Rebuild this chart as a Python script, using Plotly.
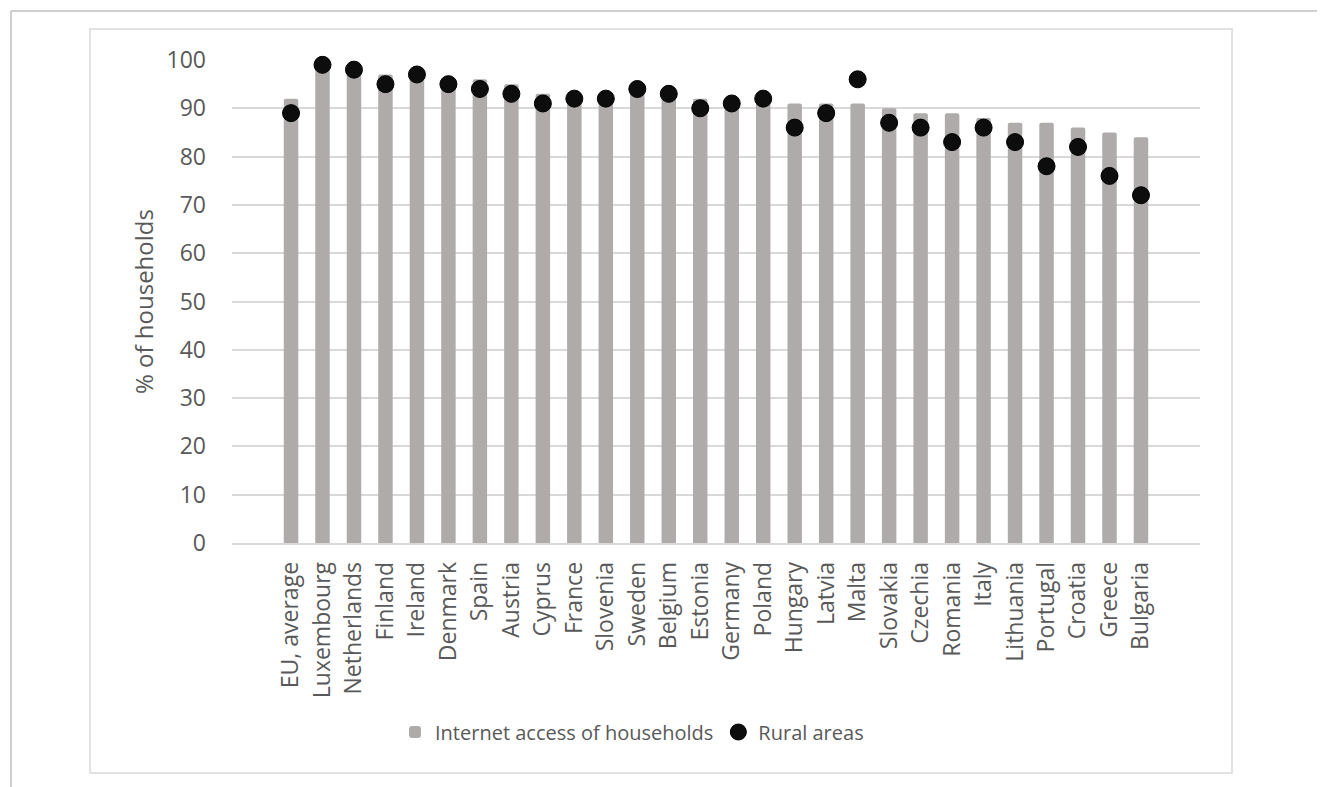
import plotly.graph_objects as go

countries = ["EU, average", "Luxembourg", "Netherlands", "Finland", "Ireland", "Denmark",
             "Spain", "Austria", "Cyprus", "France", "Slovenia", "Sweden", "Belgium",
             "Estonia", "Germany", "Poland", "Hungary", "Latvia", "Malta", "Slovakia",
             "Czechia", "Romania", "Italy", "Lithuania", "Portugal", "Croatia", "Greece",
             "Bulgaria"]
internet_access = [92, 99, 99, 97, 97, 96, 96, 95, 93, 93, 93, 94, 93, 92, 92, 92, 91, 91,
                   91, 90, 89, 89, 88, 87, 87, 86, 85, 84]
rural_areas = [89, 99, 98, 95, 97, 95, 94, 93, 91, 92, 92, 94, 93, 90, 91, 92, 86, 89,
               96, 87, 86, 83, 86, 83, 78, 82, 76, 72]
y_ticks = [0, 10, 20, 30, 40, 50, 60, 70, 80, 90, 100]

OFF = 8  # page body margin
W, H = 1325 - OFF, 787 - OFF
L, R, T, B = 232 - OFF, 1200 - OFF, 60 - OFF, 543 - OFF  # plot area in figure pixels


def px_x(p):
    return (p - OFF - L) / (R - L)


def px_y(p):
    return (B - (p - OFF)) / (B - T)


fig = go.Figure()
fig.add_trace(go.Bar(
    x=countries, y=internet_access, name="Internet access of households",
    marker=dict(color="#AFABAB", cornerradius=2, line=dict(width=0)),
))
fig.add_trace(go.Scatter(
    x=countries, y=rural_areas, name="Rural areas", mode="markers",
    marker=dict(color="#0D0D0D", size=17, line=dict(color="#000000", width=1)),
    cliponaxis=False,
))

font_family = "Open Sans"
shapes = [
    # inner chart border
    dict(type="rect", xref="paper", yref="paper",
         x0=px_x(90), x1=px_x(1232), y0=px_y(773), y1=px_y(29),
         line=dict(color="#D9D9D9", width=1.5), layer="below"),
    # outer frame (left and top edges)
    dict(type="line", xref="paper", yref="paper",
         x0=px_x(11), x1=px_x(11), y0=px_y(11), y1=px_y(800),
         line=dict(color="#BFBFBF", width=1.5)),
    dict(type="line", xref="paper", yref="paper",
         x0=px_x(11), x1=px_x(1340), y0=px_y(11), y1=px_y(11),
         line=dict(color="#BFBFBF", width=1.5)),
]

fig.update_layout(
    width=W, height=H,
    margin=dict(l=L, r=W - R, t=T, b=H - B, pad=0),
    paper_bgcolor="white", plot_bgcolor="white",
    font=dict(family=font_family, color="#595959", size=20),
    bargap=0.54,
    showlegend=True,
    legend=dict(orientation="h", x=px_x(632), xanchor="center",
                y=px_y(732), yanchor="middle",
                font=dict(size=20, color="#595959"), itemwidth=30,
                traceorder="normal"),
    shapes=shapes,
    xaxis=dict(tickangle=-90, showgrid=False, showline=True, linecolor="#D9D9D9",
               linewidth=1.5, tickfont=dict(size=23, color="#595959"),
               ticklabelstandoff=8, fixedrange=True),
    yaxis=dict(range=[0, 100], tickvals=y_ticks, showgrid=True, gridcolor="#D9D9D9",
               gridwidth=1.5, zeroline=False, showline=False,
               tickfont=dict(size=23, color="#595959"), ticklabelstandoff=25,
               title=dict(text="% of households", font=dict(size=24, color="#595959"),
                          standoff=6),
               fixedrange=True),
)

fig.write_html("out.html")
